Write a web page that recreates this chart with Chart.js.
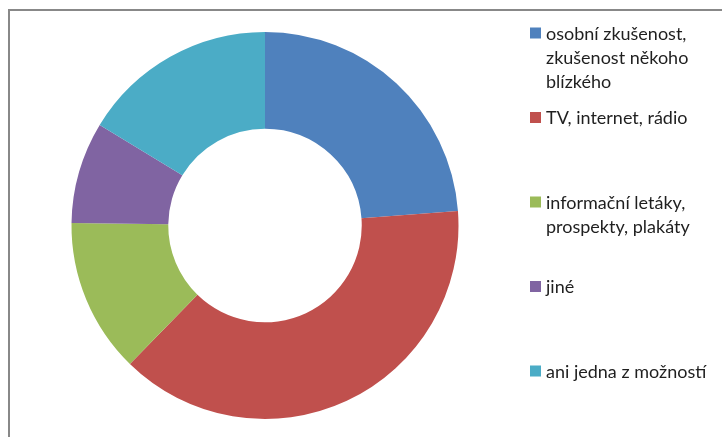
<!DOCTYPE html>
<html>
<head>
<meta charset="utf-8">
<script src="https://cdn.jsdelivr.net/npm/chart.js@4.4.0/dist/chart.umd.min.js"></script>
<style>
  html, body { margin: 0; padding: 0; background: #fff; }
  #wrap { position: relative; width: 722px; height: 437px; }
</style>
</head>
<body>
<div id="wrap"><canvas id="sourceChart" width="722" height="437"></canvas></div>
<script>
// categories (legend lines) and shares
var categories = [
  ['osobní zkušenost,', 'zkušenost někoho', 'blízkého'],
  ['TV, internet, rádio'],
  ['informační letáky,', 'prospekty, plakáty'],
  ['jiné'],
  ['ani jedna z možností']
];
var shares = [23.8, 38.5, 12.9, 8.5, 16.3];
var colors = ['#4F81BD', '#C0504D', '#9BBB59', '#8064A2', '#4BACC6'];

// frame (top + left line) like the original Excel export
var framePlugin = {
  id: 'frame',
  beforeDraw: function(chart) {
    var c = chart.ctx;
    c.save();
    c.strokeStyle = '#888888';
    c.lineWidth = 2;
    c.beginPath();
    c.moveTo(9, chart.height);
    c.lineTo(9, 10);
    c.lineTo(chart.width, 10);
    c.stroke();
    c.restore();
  }
};

// right-hand legend with wrapped labels
var legendPlugin = {
  id: 'wrapLegend',
  afterDraw: function(chart) {
    var c = chart.ctx;
    var ds = chart.data.datasets[0];
    var firstY = 33, step = 84.5, lineH = 24;
    c.save();
    c.font = '18px Lato, "Open Sans", sans-serif';
    c.textBaseline = 'middle';
    c.textAlign = 'left';
    chart.data.labels.forEach(function(lines, i) {
      var y = firstY + i * step;
      c.fillStyle = ds.backgroundColor[i];
      c.fillRect(530, y - 5.5, 11, 11);
      c.fillStyle = '#1f1f1f';
      lines.forEach(function(t, j) {
        c.fillText(t, 546, y + j * lineH + 1);
      });
    });
    c.restore();
  }
};

var ctx = document.getElementById('sourceChart').getContext('2d');
new Chart(ctx, {
  type: 'doughnut',
  data: {
    labels: categories,
    datasets: [{
      data: shares,
      backgroundColor: colors,
      borderWidth: 0
    }]
  },
  options: {
    responsive: false,
    animation: false,
    cutout: '50%',
    layout: { padding: { left: 71, right: 263, top: 32, bottom: 18 } },
    plugins: {
      legend: { display: false },
      tooltip: { enabled: false }
    }
  },
  plugins: [framePlugin, legendPlugin]
});
</script>
</body>
</html>
